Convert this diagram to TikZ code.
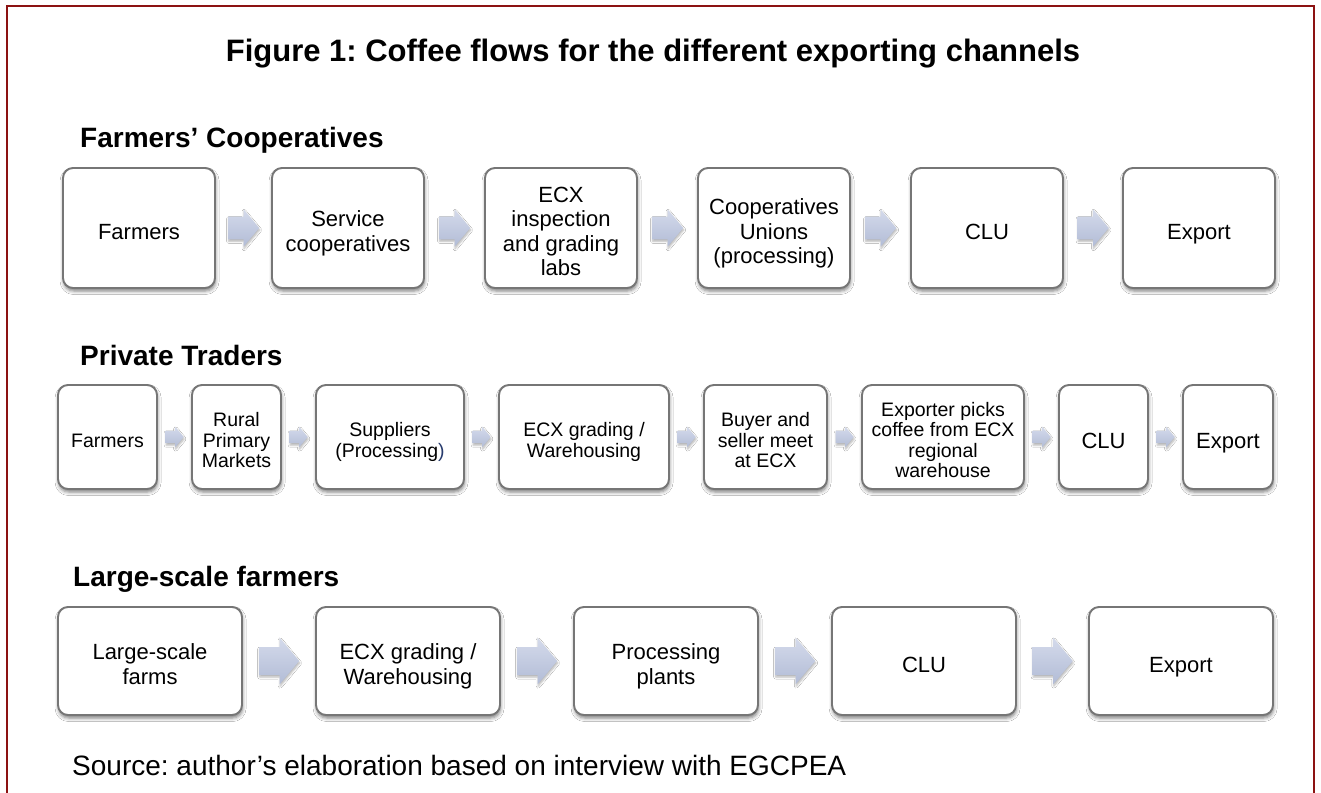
\documentclass[tikz,border=0pt]{standalone}
\usepackage{fontspec}
\setmainfont{Liberation Sans}
\usetikzlibrary{shapes.arrows,shadows.blur,calc}

\definecolor{framered}{RGB}{140,18,18}
\definecolor{boxedge}{RGB}{118,118,118}
\definecolor{arrowtop}{RGB}{212,218,235}
\definecolor{arrowbot}{RGB}{178,188,214}
\definecolor{parenblue}{RGB}{40,60,110}

\tikzset{
  stepbox/.style={draw=boxedge, line width=1.9pt, rounded corners=10pt, fill=white,
    align=center, inner sep=0pt, text depth=0pt,
    blur shadow={shadow xshift=0.6pt, shadow yshift=-3pt, shadow blur radius=3.5pt, shadow opacity=50}},
  % text height grows with the number of lines so that the block sits a little low
  wide/.style={font=\fontsize{22}{24.3}\selectfont, text height=22pt},
  wide2/.style={wide, text height=46.3pt},
  wide3/.style={wide, text height=70.6pt},
  wide4/.style={wide, text height=94.9pt},
  narrow/.style={font=\fontsize{19.5}{20.6}\selectfont, text height=20pt},
  narrow2/.style={narrow, text height=40.6pt},
  narrow3/.style={narrow, text height=61.2pt},
  narrow4/.style={narrow, text height=81.8pt},
  rowone/.style={stepbox, wide, minimum width=152pt, minimum height=120pt},
  rowtwo/.style={stepbox, narrow, minimum height=104pt},
  rowthree/.style={stepbox, wide, minimum width=184pt, minimum height=108pt},
  % block arrow: #1 = length (tail to tip), #2 = height of the head
  flowarrow/.style 2 args={single arrow, single arrow tip angle=100,
    single arrow head extend=0.2*#2, minimum height=#1, minimum width=#2,
    inner xsep=0pt, inner ysep=0.3*#2, text height=0pt, text depth=0pt,
    anchor=tail, xshift=-0.5*#1,
    draw=none, top color=arrowtop, bottom color=arrowbot,
    blur shadow={shadow xshift=0.5pt, shadow yshift=-2pt, shadow blur radius=2pt, shadow opacity=30}},
  heading/.style={font=\fontsize{28}{32}\selectfont\bfseries, anchor=base west, inner sep=0pt},
}

\begin{document}
\frenchspacing
\begin{tikzpicture}[x=1pt, y=1pt]
  \useasboundingbox (0,0) rectangle (1321,-792);
  \fill[white] (0,0) rectangle (1321,-792);
  \begin{scope}
    \clip (0,0) rectangle (1321,-792);
    \draw[framered, line width=2.2pt] (7,-820) -- (7,-6) -- (1314,-6) -- (1314,-820);
  \end{scope}

  % title
  \node[font=\fontsize{31}{35}\selectfont\bfseries, inner sep=0pt, anchor=base] (title) at (653,-62)
    {Figure 1: Coffee flows for the different exporting channels};

  % ---- Farmers' Cooperatives ----
  \node[heading] (h1) at (80,-147) {Farmers’ Cooperatives};
  \node[rowone] (c1) at (139,-228)  {Farmers};
  \node[rowone, wide2] (c2) at (348,-228)  {Service\\cooperatives};
  \node[rowone, wide4] (c3) at (561,-228)  {ECX\\inspection\\and grading\\labs};
  \node[rowone, wide3] (c4) at (774,-228)  {Cooperatives\\Unions\\(processing)};
  \node[rowone] (c5) at (987,-228)  {CLU};
  \node[rowone] (c6) at (1199,-228) {Export};
  \foreach \a/\b in {c1/c2,c2/c3,c3/c4,c4/c5,c5/c6}
    \node[flowarrow={31pt}{37pt}] at ($(\a.east)!0.5!(\b.west)$) {};

  % ---- Private Traders ----
  \node[heading] (h2) at (80,-365) {Private Traders};
  \node[rowtwo, minimum width=99pt]  (p1) at (107.5,-437) {Farmers};
  \node[rowtwo, narrow3, minimum width=89pt]  (p2) at (236.5,-437) {Rural\\Primary\\Markets};
  \node[rowtwo, narrow2, minimum width=148pt] (p3) at (390,-437)   {Suppliers\\(Processing\textcolor{parenblue}{)}};
  \node[rowtwo, narrow2, minimum width=170pt] (p4) at (584,-437)   {ECX grading /\\Warehousing};
  \node[rowtwo, narrow3, minimum width=123pt] (p5) at (765.5,-437) {Buyer and\\seller meet\\at ECX};
  \node[rowtwo, narrow4, minimum width=162pt] (p6) at (943,-437)   {Exporter picks\\coffee from ECX\\regional\\warehouse};
  \node[rowtwo, wide, minimum width=89pt]  (p7) at (1103.5,-437) {CLU};
  \node[rowtwo, wide, minimum width=90pt]  (p8) at (1228,-437)   {Export};
  \foreach \a/\b in {p1/p2,p2/p3,p3/p4,p4/p5,p5/p6,p6/p7,p7/p8}
    \node[flowarrow={18pt}{20pt}] at ($(\a.east)!0.5!(\b.west)$) {};

  % ---- Large-scale farmers ----
  \node[heading] (h3) at (73,-586) {Large-scale farmers};
  \node[rowthree, wide2] (l1) at (150,-661)  {Large-scale\\farms};
  \node[rowthree, wide2] (l2) at (408,-661)  {ECX grading /\\Warehousing};
  \node[rowthree, wide2] (l3) at (666,-661)  {Processing\\plants};
  \node[rowthree] (l4) at (924,-661)  {CLU};
  \node[rowthree] (l5) at (1181,-661) {Export};
  \foreach \a/\b in {l1/l2,l2/l3,l3/l4,l4/l5}
    \node[flowarrow={40pt}{46pt}] at ($(\a.east)!0.5!(\b.west)$) {};

  % source line
  \node[font=\fontsize{28}{32}\selectfont, anchor=west, inner sep=0pt] (src) at (72,-765)
    {Source: author’s elaboration based on interview with EGCPEA};
\end{tikzpicture}
\end{document}
